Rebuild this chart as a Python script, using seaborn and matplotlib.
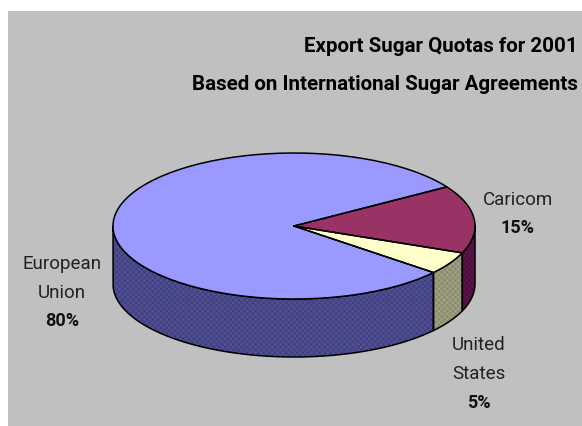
import numpy as np
import matplotlib
matplotlib.use("Agg")
import matplotlib.pyplot as plt
import seaborn as sns

# export shares, in drawing order (clockwise from the start angle)
names = ["Caricom", "United\nStates", "European\nUnion"]
shares = [15, 5, 80]
top_colors = ["#993366", "#ffffcc", "#9999ff"]
side_colors = ["#4d1a4d", "#8c8c70", "#50508f"]
dither_colors = ["#660033", "#a8a88c", "#3a3a80"]

sns.set_theme(style="white")
plt.rcParams["font.family"] = ["Roboto", "Liberation Sans", "DejaVu Sans"]
plt.rcParams["hatch.linewidth"] = 0.5

fig = plt.figure(figsize=(5.82, 4.26), dpi=100, facecolor="white")
ax = fig.add_axes([0, 0, 1, 1])
ax.set_xlim(0, 582)
ax.set_ylim(426, 0)
ax.axis("off")
ax.fill_between([8, 582], 11, 426, color="#c0c0c0", lw=0, zorder=0)

cx, cy, rx, ry, depth = 294, 226, 181, 73, 58
start = 32.4


def arc(a, b, drop=0):
    t = np.radians(np.linspace(a, b, 150))
    return cx + rx * np.cos(t), cy - ry * np.sin(t) + drop


sweeps = np.array(shares) / sum(shares) * 360
ends = start - np.cumsum(sweeps)
begins = ends + sweeps

# rim first, only the part facing the viewer
for a, b, side, dither in zip(begins, ends, side_colors, dither_colors):
    a, b = min(a, 0), max(b, -180)
    if a <= b:
        continue
    x1, y1 = arc(a, b)
    x2, y2 = arc(a, b, depth)
    xs = np.r_[x1, x2[::-1]]
    ys = np.r_[y1, y2[::-1]]
    ax.fill(xs, ys, facecolor=side, edgecolor=dither, hatch="xxxxxx", lw=0, zorder=1)
    ax.plot(np.r_[xs, xs[0]], np.r_[ys, ys[0]], color="black", lw=1.1, zorder=2)

for a, b, top in zip(begins, ends, top_colors):
    x, y = arc(a, b)
    xs = np.r_[cx, x, cx]
    ys = np.r_[cy, y, cy]
    ax.fill(xs, ys, color=top, lw=0, zorder=3)
    ax.plot(xs, ys, color="black", lw=1.1, zorder=4)

label_pos = [(518, 200, 228), (479, 345, 403), (62, 264, 321)]
line_gap = 29
for name, share, (lx, ly, py) in zip(names, shares, label_pos):
    for i, part in enumerate(name.split("\n")):
        ax.text(lx, ly + i * line_gap, part, ha="center", va="center",
                fontsize=13.5, color="#222222")
    ax.text(lx, py, f"{share}%", ha="center", va="center",
            fontsize=13, fontweight="bold", color="#111111")

ax.text(578, 47, "Export Sugar Quotas for 2001", ha="right", va="center",
        fontsize=14.8, fontweight="bold", color="black")
ax.text(578, 84, "Based on International Sugar Agreements", ha="right", va="center",
        fontsize=14.8, fontweight="bold", color="black")

fig.savefig("out.png", dpi=100, facecolor="white")
